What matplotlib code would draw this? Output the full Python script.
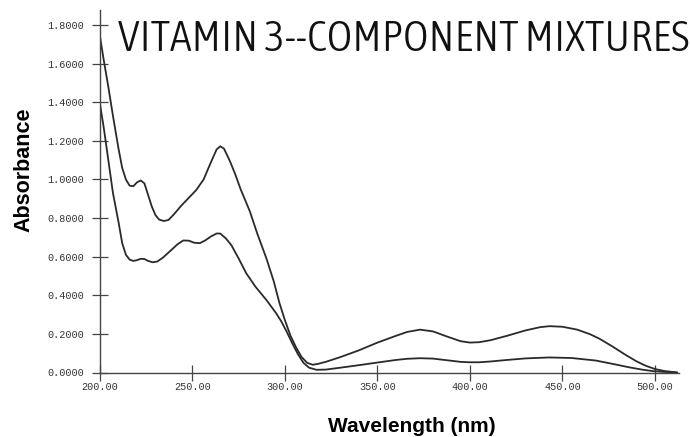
import matplotlib
matplotlib.use("Agg")
import matplotlib.pyplot as plt
from matplotlib.ticker import FormatStrFormatter
from matplotlib import font_manager

# Upper curve (wavelength nm, absorbance)
upper_wl = [200, 202, 204.5, 207, 210, 212, 214, 216, 218, 220, 222, 224, 226, 228, 230, 232,
            234.5, 237, 240, 244, 248, 252, 256, 260, 263, 265, 267, 270, 273, 276, 281, 285,
            290, 294, 297, 300, 303, 306, 309, 312, 315, 318, 322, 330, 340, 350, 360, 366,
            373, 380, 388, 395, 400, 405, 411, 420, 430, 438, 443, 450, 458, 465, 470, 477,
            484, 490, 495, 500, 505, 512]
upper_abs = [1.74, 1.62, 1.48, 1.33, 1.16, 1.06, 1.00, 0.968, 0.965, 0.985, 0.995, 0.98, 0.92,
             0.86, 0.815, 0.792, 0.785, 0.79, 0.82, 0.865, 0.905, 0.945, 1.00, 1.09, 1.155,
             1.172, 1.16, 1.10, 1.03, 0.95, 0.835, 0.72, 0.59, 0.47, 0.36, 0.27, 0.19, 0.13,
             0.08, 0.05, 0.04, 0.045, 0.055, 0.08, 0.115, 0.155, 0.19, 0.21, 0.222, 0.213,
             0.185, 0.162, 0.155, 0.157, 0.167, 0.19, 0.218, 0.235, 0.24, 0.237, 0.222, 0.198,
             0.175, 0.135, 0.092, 0.058, 0.035, 0.018, 0.008, 0.0]

# Lower curve
lower_wl = [200, 202, 204.5, 207, 210, 212, 214, 216, 218, 220, 222, 224, 226, 228.5, 231, 234,
            238, 242, 245, 248, 251, 254, 257, 260, 263, 265, 268, 271, 275, 279, 284, 290,
            295, 298, 301, 304, 307, 310, 313, 317, 322, 330, 340, 351, 360, 366, 373, 380,
            388, 395, 400, 405, 411, 420, 430, 443, 455, 468, 478, 486, 493, 499, 505, 512]
lower_abs = [1.39, 1.27, 1.10, 0.93, 0.78, 0.67, 0.61, 0.585, 0.578, 0.582, 0.589, 0.588, 0.578,
             0.571, 0.575, 0.595, 0.63, 0.665, 0.684, 0.683, 0.672, 0.67, 0.685, 0.705, 0.72,
             0.72, 0.695, 0.66, 0.59, 0.515, 0.445, 0.375, 0.31, 0.265, 0.21, 0.15, 0.095,
             0.05, 0.025, 0.014, 0.015, 0.025, 0.038, 0.053, 0.065, 0.071, 0.074, 0.072,
             0.063, 0.055, 0.053, 0.053, 0.057, 0.065, 0.073, 0.078, 0.075, 0.062, 0.043,
             0.027, 0.015, 0.007, 0.003, 0.0]

x_ticks = [200, 250, 300, 350, 400, 450, 500]
y_ticks = [0.0, 0.2, 0.4, 0.6, 0.8, 1.0, 1.2, 1.4, 1.6, 1.8]

title = "VITAMIN 3--COMPONENT MIXTURES"
x_label = "Wavelength (nm)"
y_label = "Absorbance"


def pick_title_font():
    """Prefer a condensed / narrow face; else a light face; else default."""
    cands = []
    for f in font_manager.fontManager.ttflist:
        nm = (f.name + " " + str(f.fname)).lower()
        narrow = ("condensed" in nm or "narrow" in nm or
                  str(f.stretch) in ("condensed", "semi-condensed", "extra-condensed",
                                     "ultra-condensed") or
                  (isinstance(f.stretch, (int, float)) and f.stretch < 500))
        if narrow and f.style == "normal":
            w = f.weight if isinstance(f.weight, (int, float)) else 400
            cands.append((abs(w - 300), f.fname))
    if cands:
        cands.sort()
        return font_manager.FontProperties(fname=cands[0][1])
    for fam in ["Roboto", "Lato", "Open Sans", "Inter"]:
        try:
            fn = font_manager.findfont(font_manager.FontProperties(family=fam, weight="light"),
                                       fallback_to_default=False)
            return font_manager.FontProperties(fname=fn)
        except Exception:
            pass
    return font_manager.FontProperties(family="DejaVu Sans")


W, H = 690, 437
fig = plt.figure(figsize=(W / 100, H / 100), dpi=100)
ax = fig.add_axes([100 / W, (H - 372.5) / H, 579 / W, 362.5 / H])

line_color = "#2a2a2a"
ax.plot(upper_wl, upper_abs, color=line_color, lw=1.3, solid_capstyle="round")
ax.plot(lower_wl, lower_abs, color=line_color, lw=1.3, solid_capstyle="round")

ax.set_xlim(200, 513)
ax.set_ylim(0, 1.878)
ax.set_xticks(x_ticks)
ax.set_yticks(y_ticks)
ax.xaxis.set_major_formatter(FormatStrFormatter("%.2f"))
ax.yaxis.set_major_formatter(FormatStrFormatter("%.4f"))

for s in ["top", "right"]:
    ax.spines[s].set_visible(False)
for s in ["left", "bottom"]:
    ax.spines[s].set_color("#444444")
    ax.spines[s].set_linewidth(1.0)

ax.tick_params(axis="both", direction="inout", length=11, width=0.9, color="#444444",
               labelcolor="#333333")
ax.tick_params(axis="y", pad=6)
ax.tick_params(axis="x", pad=1)
for lab in ax.get_xticklabels() + ax.get_yticklabels():
    lab.set_fontfamily(["Liberation Mono", "DejaVu Sans Mono"])
    lab.set_fontsize(7.3)

# Title: fit its width to the reference span (x 118..687 px)
tprop = pick_title_font()
ttl = fig.text(118 / W, 1 - 51 / H, title, fontproperties=tprop, fontsize=28,
               color="#111111", ha="left", va="baseline")
renderer = fig.canvas.get_renderer()
target_w = 569.0
for _ in range(3):
    bb = ttl.get_window_extent(renderer=renderer)
    ttl.set_fontsize(ttl.get_fontsize() * target_w / bb.width)
ttl.set_fontsize(min(ttl.get_fontsize(), 40))

fig.text(328 / W, 1 - 432 / H, x_label, fontsize=15, fontweight="bold",
         family=["Liberation Sans", "DejaVu Sans"], ha="left", va="baseline")
fig.text(24 / W, 1 - 170 / H, y_label, fontsize=15.5, fontweight="bold", rotation=90,
         family=["Liberation Sans", "DejaVu Sans"], ha="center", va="center")

fig.savefig("out.png", dpi=100)
